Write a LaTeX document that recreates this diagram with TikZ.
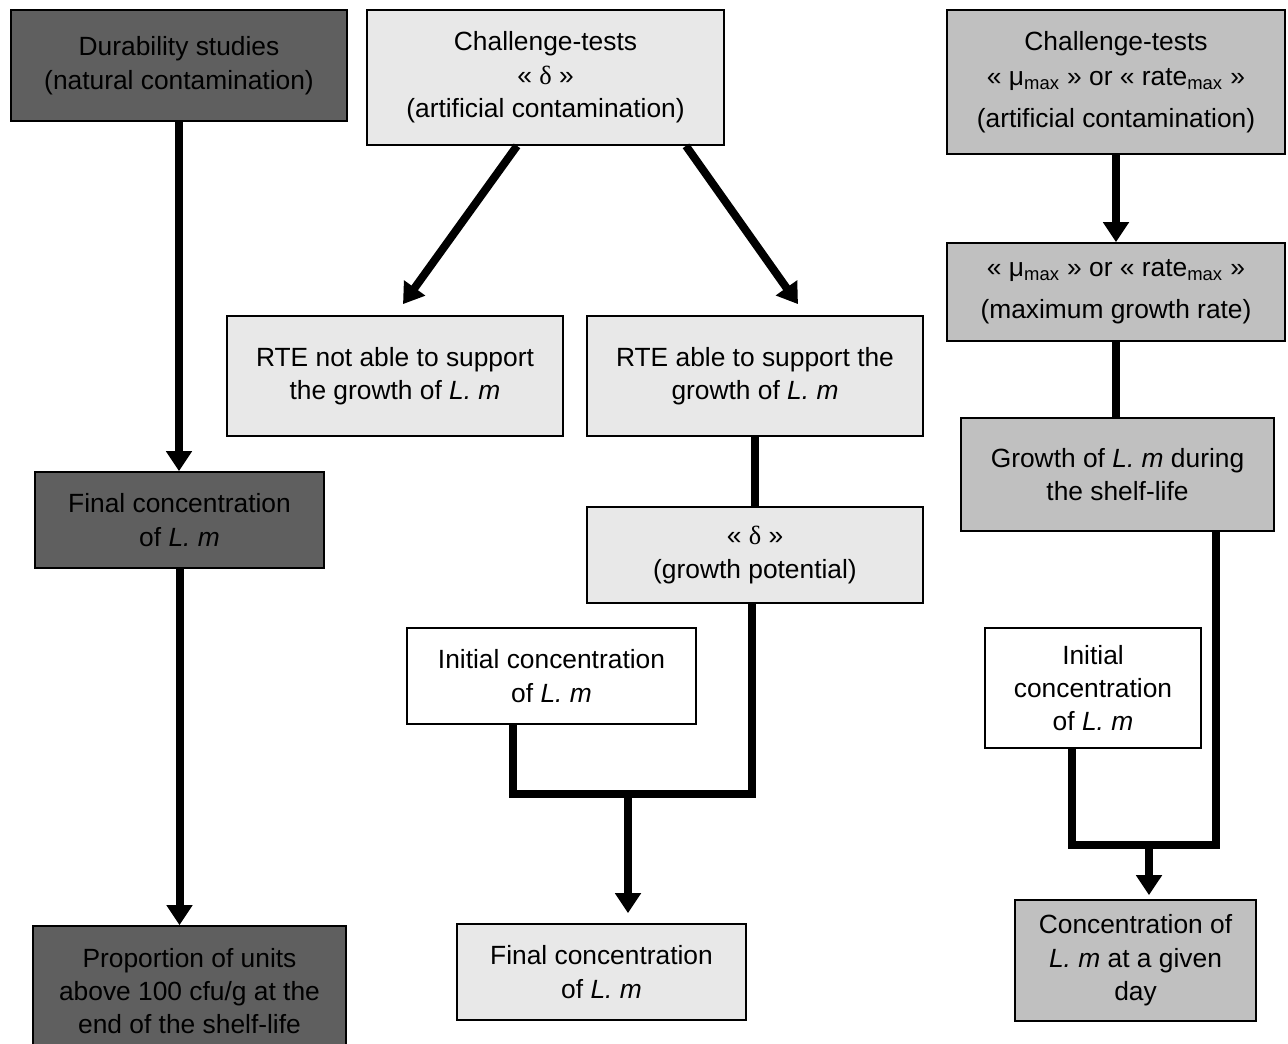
\documentclass[tikz,border=0pt]{standalone}
\usepackage{fontspec}
\setmainfont{Liberation Sans}
\newfontfamily\greekserif{Liberation Serif}
\usetikzlibrary{arrows.meta}
\definecolor{darkfill}{HTML}{5F5F5F}
\definecolor{midfill}{HTML}{C0C0C0}
\definecolor{lightfill}{HTML}{E8E8E8}
\newcommand{\Lm}{\textit{L.~m}}
\newcommand{\dlt}{«~{\greekserif δ}~»}
\newcommand{\mumax}{«~μ\textsubscript{max}~» or «~rate\textsubscript{max}~»}
\tikzset{
  box/.style={draw, line width=1pt, align=center, inner sep=2pt,
    font=\fontsize{15}{19}\selectfont},
  durbox/.style={box, fill=darkfill},
  deltabox/.style={box, fill=lightfill},
  ratebox/.style={box, fill=midfill},
  initbox/.style={box, fill=white},
  arr/.style={line width=0.16cm, -{Triangle[length=0.4cm,width=0.5cm]}},
  link/.style={line width=0.16cm, line join=miter}
}
\begin{document}
\begin{tikzpicture}[x=0.02cm, y=-0.02cm]
      \useasboundingbox (0,0) rectangle (1288,1044);
      \node[durbox, minimum width=6.72cm, minimum height=2.22cm] (dur) at (179,65.5)
        {Durability studies\\(natural contamination)};
      \node[durbox, minimum width=5.78cm, minimum height=1.92cm] (durfinal) at (179.5,520)
        {Final concentration\\of \Lm};
      \node[durbox, minimum width=6.26cm, minimum height=2.6cm] (prop) at (189.5,991)
        {Proportion of units\\above 100 cfu/g at the\\end of the shelf-life};
      \node[deltabox, minimum width=7.14cm, minimum height=2.7cm] (chal) at (545.5,77.5)
        {Challenge-tests\\\dlt\\(artificial contamination)};
      \node[deltabox, minimum width=6.72cm, minimum height=2.4cm] (notable) at (395,376)
        {RTE not able to support\\the growth of \Lm};
      \node[deltabox, minimum width=6.72cm, minimum height=2.4cm] (able) at (755,376)
        {RTE able to support the\\growth of \Lm};
      \node[deltabox, minimum width=6.72cm, minimum height=1.92cm] (delta) at (755,555)
        {\dlt\\(growth potential)};
      \node[initbox, minimum width=5.78cm, minimum height=1.92cm] (initB) at (551.5,676)
        {Initial concentration\\of \Lm};
      \node[deltabox, minimum width=5.78cm, minimum height=1.92cm] (finalB) at (601.5,972)
        {Final concentration\\of \Lm};
      \node[ratebox, minimum width=6.76cm, minimum height=2.88cm] (chalmu) at (1116,82)
        {Challenge-tests\\[1pt]\mumax\\[5pt](artificial contamination)};
      \node[ratebox, minimum width=6.76cm, minimum height=1.96cm] (mumax) at (1116,292)
        {\mumax\\[5pt](maximum growth rate)};
      \node[ratebox, minimum width=6.26cm, minimum height=2.26cm] (growth) at (1117.5,474.5)
        {Growth of \Lm{} during\\the shelf-life};
      \node[initbox, minimum width=4.32cm, minimum height=2.4cm] (initC) at (1093,688)
        {Initial\\concentration\\of \Lm};
      \node[ratebox, minimum width=4.82cm, minimum height=2.42cm] (conc) at (1135.5,960.5)
        {Concentration of\\\Lm{} at a given\\day};
      \coordinate (jB) at (628,794);
      \coordinate (jC) at (1149,845);
      \begin{scope}[arr]
        \draw (dur.south) to (dur.south |- durfinal.north);
        \draw (durfinal.south) to (durfinal.south |- prop.north);
        \draw ([xshift=-0.57cm]chal.south) to ([xshift=0.16cm,yshift=0.22cm]notable.north);
        \draw ([xshift=2.81cm]chal.south) to ([xshift=0.86cm,yshift=0.22cm]able.north);
        \draw[shorten >=0.2cm] (jB) to (jB |- finalB.north);
        \draw (chalmu.south) to (mumax.north);
        \draw[shorten >=0.08cm] (jC) to (jC |- conc.north);
      \end{scope}
      \begin{scope}[link]
        \draw (able.south) to (delta.north);
        \draw ([xshift=-0.77cm]initB.south) |- ([xshift=-0.06cm]delta.south |- jB)
          -- ([xshift=-0.06cm]delta.south);
        \draw (mumax.south) to (mumax.south |- growth.north);
        \draw ([xshift=-0.42cm]initC.south) |- ([xshift=1.97cm]growth.south |- jC)
          -- ([xshift=1.97cm]growth.south);
      \end{scope}
    \end{tikzpicture}
\end{document}
